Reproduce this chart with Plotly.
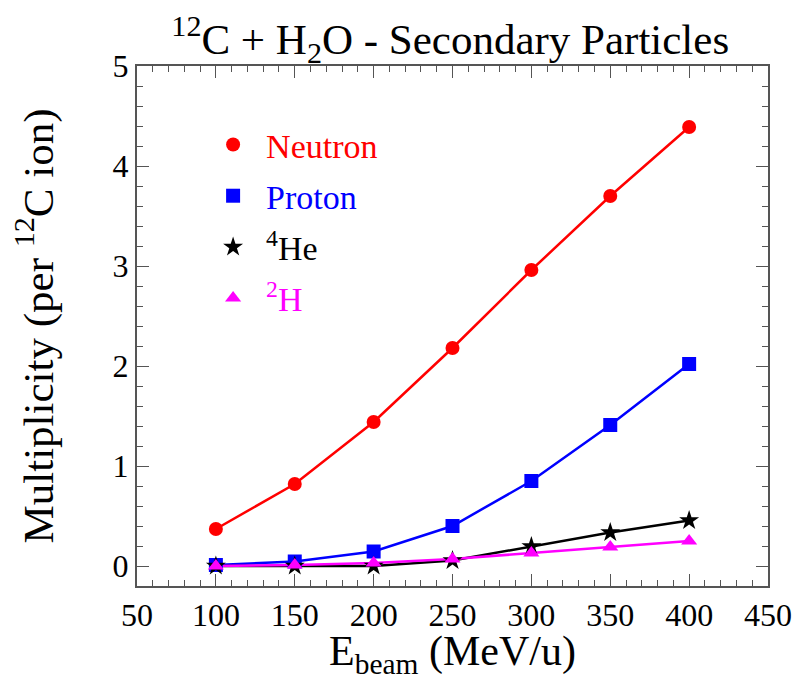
import plotly.graph_objects as go

# Beam energies (MeV/u)
energy = [100, 150, 200, 250, 300, 350, 400]

# Secondary particle multiplicities per 12C ion
neutron = [0.37, 0.82, 1.44, 2.18, 2.96, 3.70, 4.39]
proton = [0.01, 0.045, 0.145, 0.40, 0.85, 1.41, 2.02]
helium4 = [0.0, 0.0, 0.0, 0.055, 0.195, 0.335, 0.455]
deuteron = [0.0, 0.01, 0.03, 0.07, 0.13, 0.19, 0.25]

x_ticks = [50, 100, 150, 200, 250, 300, 350, 400, 450]
y_ticks = [0, 1, 2, 3, 4, 5]

FONT = "Liberation Serif, Times New Roman, serif"

series = [
    ("Neutron", neutron, "#ff0000", "circle"),
    ("Proton", proton, "#0000ff", "square"),
    ("<sup>4</sup>He", helium4, "#000000", "star"),
    ("<sup>2</sup>H", deuteron, "#ff00ff", "triangle-up"),
]

fig = go.Figure()

# connecting lines (drawn first, no legend entry)
for name, vals, color, sym in series:
    fig.add_trace(go.Scatter(
        x=energy, y=vals, mode="lines",
        line=dict(color=color, width=2.5),
        showlegend=False, hoverinfo="skip",
    ))

# markers with legend entries, label text coloured like the series
for i, (name, vals, color, sym) in enumerate(series):
    fig.add_trace(go.Scatter(
        x=energy, y=vals, mode="markers",
        marker=dict(color=color, symbol=sym, size=14 if sym != "star" else 15,
                    line=dict(width=0)),
        name=f'<span style="color:{color}">{name}</span>',
        legendgroup=f"g{i}",
    ))

axis_common = dict(
    showgrid=False, zeroline=False,
    showline=True, linecolor="#555555", linewidth=2, mirror="ticks",
    ticks="inside", ticklen=12, tickwidth=1.2, tickcolor="#555555",
    tickfont=dict(family=FONT, size=32, color="black"),
)

fig.update_xaxes(
    range=[50, 450], tickvals=x_ticks,
    minor=dict(dtick=10, ticks="inside", ticklen=6, tickwidth=1, tickcolor="#555555"),
    title=dict(text="E<sub>beam</sub> (MeV/u)",
               font=dict(family=FONT, size=42, color="black"), standoff=5),
    **axis_common,
)
fig.update_yaxes(
    range=[-0.2, 5], tickvals=y_ticks,
    minor=dict(dtick=0.2, ticks="inside", ticklen=6, tickwidth=1, tickcolor="#555555"),
    title=dict(text="Multiplicity (per <sup>12</sup>C ion)",
               font=dict(family=FONT, size=43, color="black"), standoff=46),
    **axis_common,
)

fig.update_layout(
    width=804, height=680,
    margin=dict(l=137, r=31, t=66, b=92),
    plot_bgcolor="white", paper_bgcolor="white",
    title=dict(text="<sup>12</sup>C + H<sub>2</sub>O - Secondary Particles",
               font=dict(family=FONT, size=43, color="black"),
               x=0.56, xanchor="center", y=0.943, yanchor="middle"),
    legend=dict(x=0.10, y=0.904, xanchor="left", yanchor="top",
                font=dict(family=FONT, size=34), bgcolor="rgba(0,0,0,0)",
                tracegroupgap=4, itemwidth=56),
)

fig.write_html("out.html")
